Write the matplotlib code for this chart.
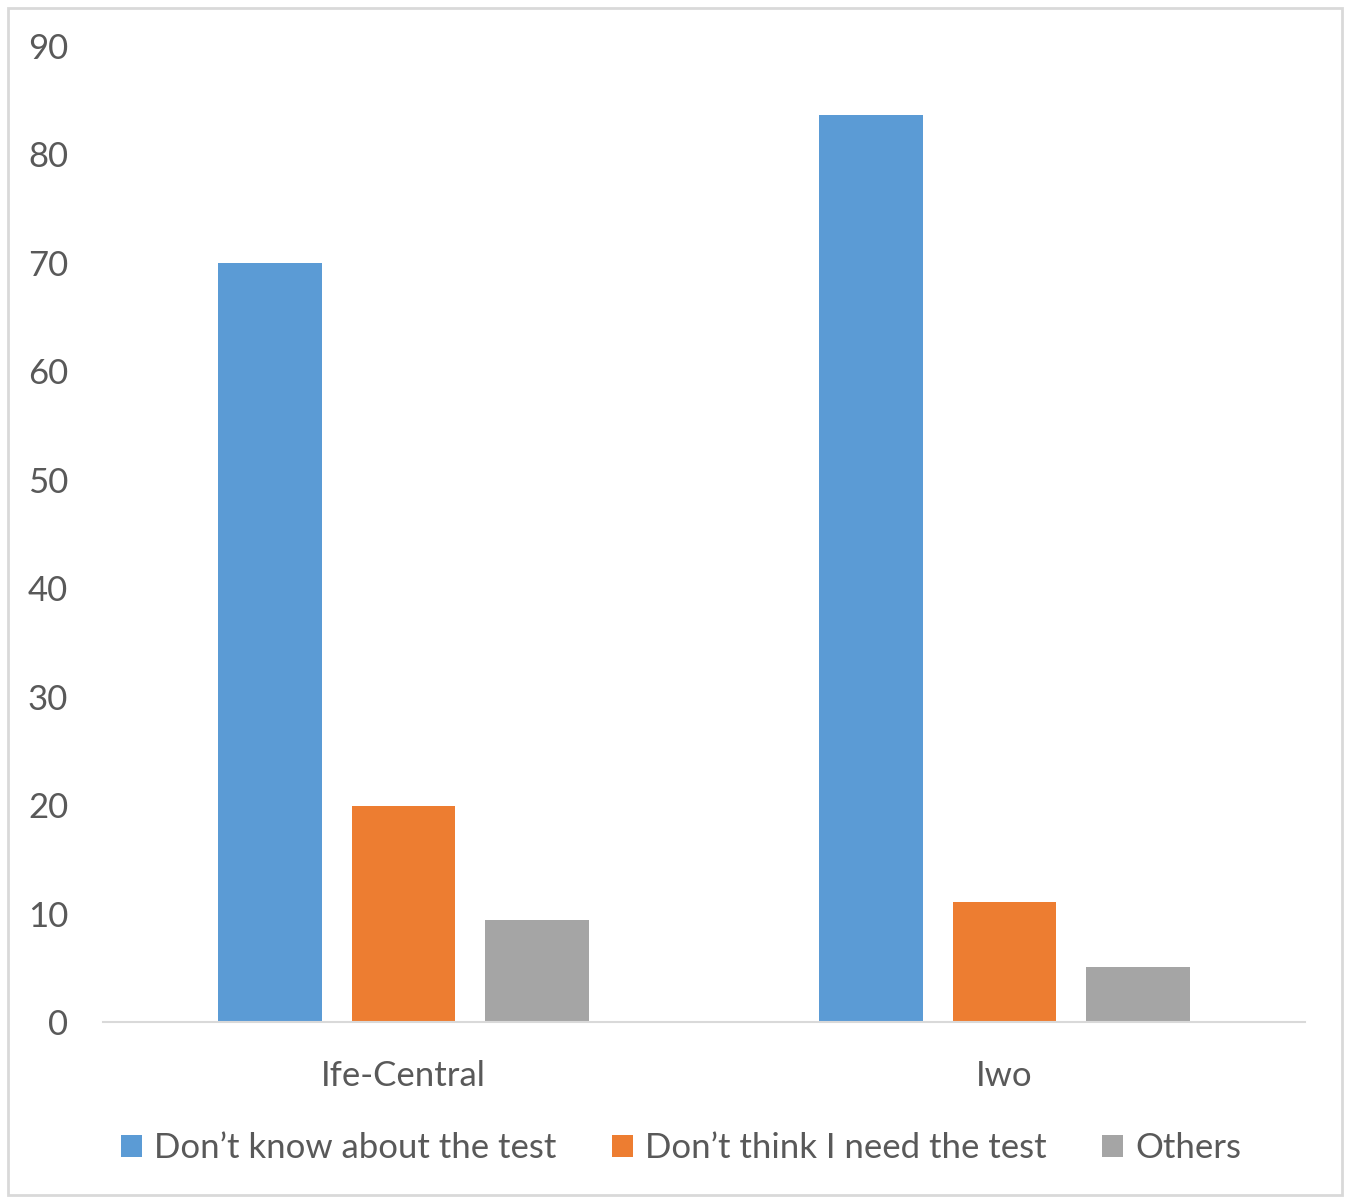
import numpy as np
import matplotlib.pyplot as plt
from matplotlib.patches import Rectangle

plt.rcParams['font.family'] = ['Lato', 'DejaVu Sans']

districts = ['Ife-Central', 'Iwo']
series_names = ["Don\u2019t know about the test", "Don\u2019t think I need the test", 'Others']
dont_know = [70, 83.6]
dont_need = [19.9, 11.1]
others = [9.4, 5.1]
colors = ['#5b9bd5', '#ed7d31', '#a5a5a5']

W, H = 13.48, 12.01
fig = plt.figure(figsize=(W, H), dpi=100)
ax = fig.add_axes([103 / 1348, 1 - 1022 / 1201, 1202 / 1348, 976 / 1201])

x = np.arange(len(districts))
width = 0.172
step = 0.222
for i, (vals, name) in enumerate(zip([dont_know, dont_need, others], series_names)):
    ax.bar(x + (i - 1) * step, vals, width, color=colors[i], label=name)

ax.set_xlim(-0.5, 1.5)
ax.set_ylim(0, 90)
ax.set_yticks(range(0, 91, 10))
ax.set_xticks(x)
ax.set_xticklabels(districts)
ax.tick_params(axis='both', length=0, labelsize=25, colors='#595959')
ax.tick_params(axis='y', pad=25)
ax.tick_params(axis='x', pad=27)
for s in ['top', 'right', 'left']:
    ax.spines[s].set_visible(False)
ax.spines['bottom'].set_color('#d9d9d9')
ax.spines['bottom'].set_linewidth(1.5)

leg = fig.legend(loc='center', bbox_to_anchor=(681 / 1348, 1 - 1148 / 1201), ncol=3,
                 frameon=False, fontsize=25, handlelength=0.6, handleheight=0.6,
                 handletextpad=0.35, columnspacing=1.6, labelcolor='#595959')

fig.patches.append(Rectangle((8 / 1348, 6 / 1201), 1334 / 1348, 1187 / 1201,
                             transform=fig.transFigure, fill=False,
                             edgecolor='#d9d9d9', linewidth=2))

fig.savefig('out.png', dpi=100)
